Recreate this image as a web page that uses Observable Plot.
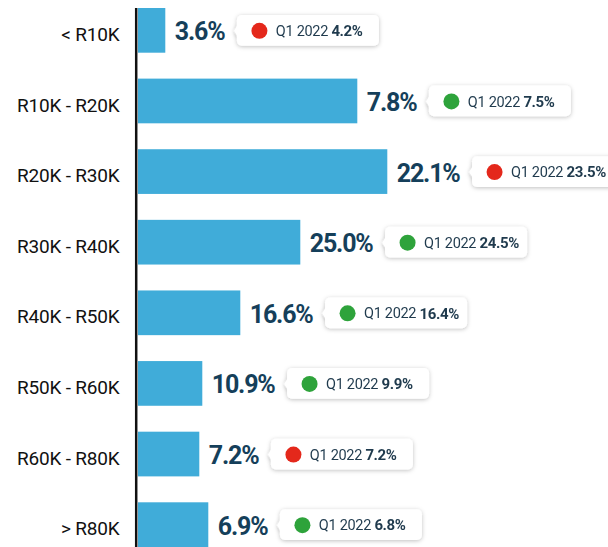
<!DOCTYPE html>
<html>
<head>
<meta charset="utf-8">
<script src="https://cdn.jsdelivr.net/npm/d3@7"></script>
<script src="https://cdn.jsdelivr.net/npm/@observablehq/plot@0.6"></script>
<style>
  html, body { margin: 0; padding: 0; background: #fff; }
  #chart svg { display: block; }
  g[aria-description="tip-box"], g[aria-description="tip-arrow"] { filter: url(#tipShadow); }
  g[aria-description="value-label"] { letter-spacing: -1.2px; }
  g[aria-description="band-label"] { letter-spacing: -0.2px; }
  g[aria-description="tip-value"] { letter-spacing: -0.4px; }
</style>
</head>
<body>
<svg width="0" height="0" style="position:absolute">
  <defs>
    <filter id="tipShadow" x="-20%" y="-40%" width="140%" height="190%">
      <feDropShadow dx="0" dy="1" stdDeviation="2.2" flood-color="#000" flood-opacity="0.25"/>
    </filter>
  </defs>
</svg>
<div id="chart"></div>
<script>
// Income bands (categories)
const bands = ["< R10K", "R10K - R20K", "R20K - R30K", "R30K - R40K", "R40K - R50K", "R50K - R60K", "R60K - R80K", "> R80K"];
// Bar lengths as drawn in the reference (percent units)
const barLength = [2.73, 21.93, 24.93, 16.23, 10.23, 6.43, 6.13, 7.03];
// Printed share labels (current period)
const shareLabels = [3.6, 7.8, 22.1, 25.0, 16.6, 10.9, 7.2, 6.9];
// Comparison period values
const comparisonLabel = "Q1 2022";
const q1_2022 = [4.2, 7.5, 23.5, 24.5, 16.4, 9.9, 7.2, 6.8];

const W = 608, H = 547;
const marginLeft = 138, marginTop = 8;
const xDomain = [0, 47];
const xs = Plot.scale({x: {domain: xDomain, range: [marginLeft, W]}});

const ctx = document.createElement("canvas").getContext("2d");
ctx.font = "bold 25px Roboto";

const data = bands.map((band, i) => {
  const text = shareLabels[i].toFixed(1) + "%";
  const w = ctx.measureText(text).width - text.length * 1.2;
  const boxLeftPx = xs.apply(barLength[i]) + 9 + w + 13;
  return {
    band,
    bar: barLength[i],
    text,
    prev: q1_2022[i],
    up: shareLabels[i] > q1_2022[i],
    boxX1: xs.invert(boxLeftPx),
    boxX2: xs.invert(boxLeftPx + 142)
  };
});

const navy = "#153f5a";
const tipText = "#1f3a4d";

const chart = Plot.plot({
  width: W,
  height: H,
  marginLeft,
  marginRight: 0,
  marginTop,
  marginBottom: 0,
  style: {fontFamily: "Roboto, 'Liberation Sans', sans-serif", background: "#fff", color: "#111"},
  x: {domain: xDomain, axis: null},
  y: {domain: bands, paddingInner: 0.367, paddingOuter: 0, round: false, axis: null},
  marks: [
    Plot.barX(data, {x: "bar", y: "band", fill: "#40acd9"}),
    Plot.ruleX([0], {dx: -2.3, stroke: "#111", strokeWidth: 2.5}),
    Plot.text(data, {y: "band", text: "band", frameAnchor: "left", dx: -19, dy: 4, textAnchor: "end", fontSize: 19, fill: "#111", ariaDescription: "band-label"}),
    Plot.text(data, {x: "bar", y: "band", text: "text", dx: 9, dy: 1.5, textAnchor: "start", fontSize: 25, fontWeight: "bold", fill: navy, ariaDescription: "value-label"}),
    Plot.dot(data, {x: "boxX1", y: "band", symbol: "diamond", r: 3.5, fill: "#fff", stroke: "none", ariaDescription: "tip-arrow"}),
    Plot.rect(data, {x1: "boxX1", x2: "boxX2", y: "band", insetTop: 7, insetBottom: 7, rx: 5, fill: "#fff", ariaDescription: "tip-box"}),
    Plot.dot(data, {x: "boxX1", y: "band", symbol: "diamond", r: 3.5, fill: "#fff", stroke: "none", ariaDescription: "tip-arrow-top"}),
    Plot.dot(data, {x: "boxX1", y: "band", dx: 22, r: 8, fill: d => d.up ? "#2ea33b" : "#e4281b", stroke: "none"}),
    Plot.text(data, {x: "boxX1", y: "band", text: () => comparisonLabel, dx: 38.4, dy: 0.5, textAnchor: "start", fontSize: 14.5, fill: tipText, ariaDescription: "tip-label"}),
    Plot.text(data, {x: "boxX1", y: "band", text: d => d.prev.toFixed(1) + "%", dx: 94, dy: 0.5, textAnchor: "start", fontSize: 15, fontWeight: "bold", fill: tipText, ariaDescription: "tip-value"})
  ]
});

d3.select(chart).selectAll('g[aria-description="tip-box"], g[aria-description="tip-arrow"]')
  .attr("filter", "url(#tipShadow)");
d3.select(chart).selectAll('g[aria-description="tip-label"]').style("letter-spacing", "-0.3px");

document.getElementById("chart").appendChild(chart);
</script>
</body>
</html>
